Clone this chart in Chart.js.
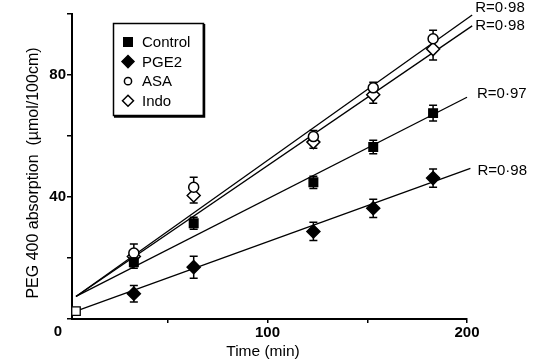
<!DOCTYPE html>
<html>
<head>
<meta charset="utf-8">
<script src="https://cdn.jsdelivr.net/npm/chart.js@4.4.0/dist/chart.umd.min.js"></script>
<style>
html, body { margin: 0; padding: 0; background: #fff; }
#wrap { width: 540px; height: 363px; }
</style>
</head>
<body>
<div id="wrap"><canvas id="chart" width="540" height="363"></canvas></div>
<script>
// Data
const times = [33, 63, 123, 153, 183];
const control = [18.6, 31.4, 44.8, 56.4, 67.5];
const controlErr = [2, 2, 2, 2.2, 2.6];
const pge2 = [8.3, 17.0, 28.7, 36.3, 46.2];
const pge2Err = [2.7, 3.6, 3, 3, 3];
const asa = [21.6, 43.2, 59.8, 75.8, 91.9];
const asaErr = [3, 3.3, 2, 1.8, 2.8];
const indo = [20.5, 40.5, 58, 73.5, 88.5];
const indoErr = [2, 2.5, 2, 2.8, 3.6];

// Start point and regression lines (start x, start y, end x, end y)
const startPoint = [4, 2.6];
const asaFit = [4, 7.4, 202.6, 99.7];
const indoFit = [4, 7.4, 202.6, 96.1];
const controlFit = [4, 7.4, 200, 72.7];
const pge2Fit = [4, 2.6, 201.7, 49.4];
const rLabels = ["R=0·98", "R=0·98", "R=0·97", "R=0·98"];

const xTicks = [50, 100, 150, 200];
const yTicks = [0, 20, 40, 60, 80, 100];
const xLabelled = [100, 200];
const yLabelled = [40, 80];

const pts = (ys) => times.map((t, i) => ({ x: t, y: ys[i] }));
const fitLine = (f) => [{ x: f[0], y: f[1] }, { x: f[2], y: f[3] }];

const font = "'Liberation Sans', Arial, sans-serif";

// Error bars (drawn under the markers)
const errorBars = {
    id: 'errorBars',
    beforeDatasetsDraw(chart) {
        const { ctx, scales: { x, y } } = chart;
        ctx.save();
        ctx.strokeStyle = "#000";
        ctx.lineWidth = 1.5;
        chart.data.datasets.forEach(ds => {
            if (!ds.err) return;
            ds.data.forEach((p, i) => {
                const px = x.getPixelForValue(p.x);
                const e = ds.err[i];
                const top = y.getPixelForValue(p.y + (ds.errDir >= 0 ? e : 0));
                const bot = y.getPixelForValue(p.y - (ds.errDir <= 0 ? e : 0));
                ctx.beginPath();
                ctx.moveTo(px, top); ctx.lineTo(px, bot);
                if (ds.errDir >= 0) { ctx.moveTo(px - 4, top); ctx.lineTo(px + 4, top); }
                if (ds.errDir <= 0) { ctx.moveTo(px - 4, bot); ctx.lineTo(px + 4, bot); }
                ctx.stroke();
            });
        });
        ctx.restore();
    }
};

// R labels, legend box, axis titles, origin "0"
const extras = {
    id: 'extras',
    afterDraw(chart) {
        const { ctx, scales: { x, y } } = chart;
        ctx.save();
        ctx.fillStyle = "#000";
        ctx.textBaseline = "middle";

        // R labels at the end of each fit line
        ctx.font = "15px " + font;
        ctx.textAlign = "left";
        chart.data.datasets.forEach(ds => {
            if (ds.rLabel === undefined) return;
            const end = ds.data[ds.data.length - 1];
            ctx.fillText(ds.rLabel, x.getPixelForValue(end.x) + ds.rOffset[0], y.getPixelForValue(end.y) + ds.rOffset[1]);
        });

        // legend box
        ctx.strokeStyle = "#000";
        ctx.lineWidth = 1.5;
        ctx.strokeRect(113.5, 23.5, 90, 92);
        ctx.lineWidth = 2.5;
        ctx.beginPath();
        ctx.moveTo(204, 24); ctx.lineTo(204, 116.5); ctx.lineTo(114, 116.5);
        ctx.stroke();
        const items = chart.data.datasets.filter(d => d.inLegend);
        items.forEach((ds, i) => {
            const cy = 42 + i * 19.6;
            ctx.fillStyle = ds.backgroundColor;
            ctx.strokeStyle = ds.borderColor;
            ctx.lineWidth = 1.5;
            Chart.helpers.drawPoint(ctx, { pointStyle: ds.pointStyle, radius: ds.legendRadius, borderWidth: 1.5, rotation: 0 }, 128, cy);
            ctx.fillStyle = "#000";
            ctx.fillText(ds.label, 142, cy + 1);
        });

        // axis titles
        ctx.textAlign = "center";
        ctx.font = "15.5px " + font;
        ctx.fillText("Time (min)", 263, 352);
        ctx.save();
        ctx.translate(34, 173);
        ctx.rotate(-Math.PI / 2);
        ctx.font = "16px " + font;
        ctx.fillText("PEG 400 absorption  (\u00b5mol/100cm)", 0, 0);
        ctx.restore();

        // shared origin label
        ctx.font = "bold 15px " + font;
        ctx.fillText("0", 58, 332);
        ctx.restore();
    }
};

const pointSet = (label, ys, err, errDir, style, radius, fill, legendRadius) => ({
    label: label, data: pts(ys), err: err, errDir: errDir, inLegend: true,
    showLine: false, pointStyle: style, pointRadius: radius, pointHoverRadius: radius,
    backgroundColor: fill, borderColor: "#000", pointBorderWidth: 1.5, legendRadius: legendRadius, clip: false
});

const fitSet = (f, rLabel, rOffset) => ({
    data: fitLine(f), showLine: true, borderColor: "#000", borderWidth: 1.3,
    pointRadius: 0, rLabel: rLabel, rOffset: rOffset, clip: false, order: 10
});

const ctx = document.getElementById("chart").getContext("2d");
const chart = new Chart(ctx, {
    type: 'scatter',
    data: {
        datasets: [
            pointSet("Control", control, controlErr, 0, 'rect', 6, "#000", 6),
            pointSet("PGE2", pge2, pge2Err, 0, 'rectRot', 6.5, "#000", 6),
            pointSet("ASA", asa, asaErr, 1, 'circle', 5, "#fff", 3.6),
            pointSet("Indo", indo, indoErr, -1, 'rectRot', 6.5, "#fff", 5.5),
            { data: [{ x: startPoint[0], y: startPoint[1] }], showLine: false, pointStyle: 'rect', pointRadius: 6,
              backgroundColor: "#fff", borderColor: "#000", pointBorderWidth: 1.3, clip: false },
            fitSet(asaFit, rLabels[0], [3, -7]),
            fitSet(indoFit, rLabels[1], [3, 0]),
            fitSet(controlFit, rLabels[2], [10, -3]),
            fitSet(pge2Fit, rLabels[3], [7, 3])
        ]
    },
    options: {
        responsive: false,
        animation: false,
        layout: { padding: { top: 14, right: 73, left: 0, bottom: 0 } },
        plugins: { legend: { display: false }, tooltip: { enabled: false } },
        scales: {
            x: {
                type: 'linear', min: 2, max: 200,
                afterBuildTicks: s => { s.ticks = xTicks.map(v => ({ value: v })); },
                afterFit: s => { s.height = 44; },
                ticks: {
                    color: "#000", padding: 1, maxRotation: 0,
                    font: { family: font, size: 15, weight: 'bold' },
                    callback: v => xLabelled.includes(v) ? String(v) : ''
                },
                grid: { drawOnChartArea: false, drawTicks: true, tickLength: 4, color: "#000", lineWidth: 1.5 },
                border: { display: true, color: "#000", width: 2 }
            },
            y: {
                type: 'linear', min: 0, max: 100,
                afterBuildTicks: s => { s.ticks = yTicks.map(v => ({ value: v })); },
                afterFit: s => { s.width = 72; },
                ticks: {
                    color: "#000", padding: 1,
                    font: { family: font, size: 15, weight: 'bold' },
                    callback: v => yLabelled.includes(v) ? String(v) : ''
                },
                grid: { drawOnChartArea: false, drawTicks: true, tickLength: 5, color: "#000", lineWidth: 1.5 },
                border: { display: true, color: "#000", width: 2 }
            }
        }
    },
    plugins: [errorBars, extras]
});
</script>
</body>
</html>
